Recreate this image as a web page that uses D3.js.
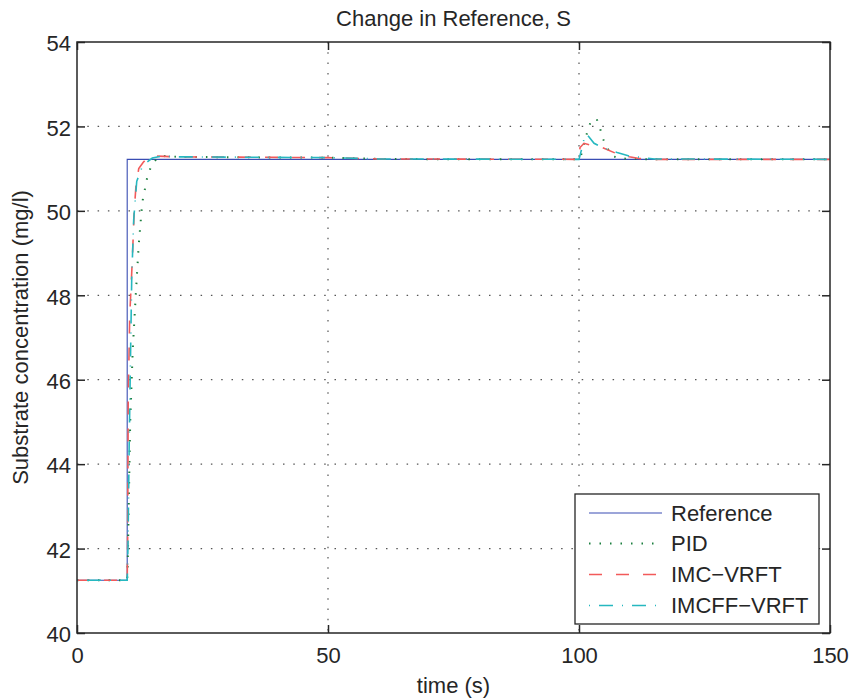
<!DOCTYPE html>
<html>
<head>
<meta charset="utf-8">
<script src="https://cdn.jsdelivr.net/npm/d3@7"></script>
<style>
  html, body { margin: 0; padding: 0; background: #fff; }
  svg { display: block; }
  text { font-family: "Liberation Sans", Arial, sans-serif; fill: #262626; }
</style>
</head>
<body>
<svg id="chart" width="854" height="698"></svg>
<script>
// ---- data ----
const titleText = "Change in Reference, S";
const xLabel = "time (s)";
const yLabel = "Substrate concentration (mg/l)";
const xTicks = [0, 50, 100, 150];
const yTicks = [40, 42, 44, 46, 48, 50, 52, 54];
const seriesNames = ["Reference", "PID", "IMC\u2212VRFT", "IMCFF\u2212VRFT"];

const refT = [0, 10, 10, 150];
const refY = [41.25, 41.25, 51.22, 51.22];

const pidT = [0, 10, 10.1, 10.3, 10.6, 11.1, 11.7, 12.3, 13, 14, 14.9, 16, 17.5, 20, 30, 50, 60, 80, 100, 100.5, 101, 101.8, 102.5, 103.6, 104.2, 104.8, 105.6, 106.6, 108, 110, 115, 150];
const pidY = [41.25, 41.25, 41.6, 43.0, 45.0, 46.7, 48.0, 49.2, 50.2, 50.8, 51.1, 51.25, 51.3, 51.28, 51.27, 51.26, 51.23, 51.22, 51.22, 51.35, 51.6, 51.93, 52.17, 52.15, 51.95, 51.7, 51.5, 51.3, 51.25, 51.23, 51.22, 51.22];

const imcT = [0, 10, 10.1, 10.2, 10.5, 11.0, 11.4, 11.75, 12.3, 13.2, 14, 15, 20, 50, 60, 100, 100.2, 101, 102.5, 104.6, 107.6, 110, 112, 115, 150];
const imcY = [41.25, 41.25, 42.3, 45.5, 47.5, 48.8, 50.0, 50.6, 51.0, 51.15, 51.25, 51.3, 51.28, 51.26, 51.23, 51.22, 51.5, 51.6, 51.55, 51.5, 51.35, 51.28, 51.24, 51.22, 51.22];

const imcffT = [0, 10, 10.15, 10.4, 10.9, 11.3, 11.9, 13.0, 13.9, 15, 17, 20, 50, 60, 100, 100.5, 101, 101.5, 102, 103, 104.6, 107.6, 110, 115, 150];
const imcffY = [41.25, 41.25, 42.0, 44.5, 48.4, 49.8, 50.7, 51.05, 51.15, 51.25, 51.3, 51.28, 51.26, 51.23, 51.22, 51.45, 51.7, 51.82, 51.75, 51.6, 51.5, 51.38, 51.3, 51.23, 51.22];

// ---- layout ----
const svg = d3.select("#chart");
const L = 77, R = 830, T = 42, B = 633;
const x = d3.scaleLinear().domain([0, 150]).range([L, R]);
const y = d3.scaleLinear().domain([40, 54]).range([B, T]);
const axisColor = "#262626";
const fontSize = 22;

// grid
const grid = svg.append("g");
grid.selectAll(".gx").data(xTicks.filter(d => d > 0 && d < 150)).join("line")
  .attr("x1", d => x(d)).attr("x2", d => x(d)).attr("y1", T).attr("y2", B)
  .attr("stroke", "#555").attr("stroke-width", 1.2).attr("stroke-dasharray", "1.5,8.8");
grid.selectAll(".gy").data(yTicks.filter(d => d > 40 && d < 54)).join("line")
  .attr("x1", L).attr("x2", R).attr("y1", d => y(d)).attr("y2", d => y(d))
  .attr("stroke", "#555").attr("stroke-width", 1.2).attr("stroke-dasharray", "1.5,8.8");

// series
const line = d3.line().x(d => x(d[0])).y(d => y(d[1]));
const zip = (a, b) => a.map((v, i) => [v, b[i]]);
const styles = [
  { data: zip(refT, refY), color: "#3a4db3", width: 1.1, dash: null },
  { data: zip(pidT, pidY), color: "#1d8040", width: 2, dash: "1.5,9" },
  { data: zip(imcT, imcY), color: "#f25a5a", width: 1.6, dash: "13,14" },
  { data: zip(imcffT, imcffY), color: "#26b8c0", width: 1.6, dash: "1,9,14,9" }
];
svg.append("clipPath").attr("id", "clp").append("rect")
  .attr("x", L).attr("y", T).attr("width", R - L).attr("height", B - T);
const sg = svg.append("g").attr("clip-path", "url(#clp)");
styles.forEach(s => {
  sg.append("path").attr("d", line(s.data)).attr("fill", "none")
    .attr("stroke", s.color).attr("stroke-width", s.width)
    .attr("stroke-dasharray", s.dash);
});

// axes box
svg.append("rect").attr("x", L).attr("y", T).attr("width", R - L).attr("height", B - T)
  .attr("fill", "none").attr("stroke", axisColor).attr("stroke-width", 1.5);

// axes with inward ticks
const ax = svg.append("g").attr("transform", `translate(0,${B})`)
  .call(d3.axisBottom(x).tickValues(xTicks).tickSize(-8).tickPadding(14).tickFormat(d3.format("d")));
const axTop = svg.append("g").attr("transform", `translate(0,${T})`)
  .call(d3.axisTop(x).tickValues(xTicks).tickSize(-8).tickFormat(""));
const ay = svg.append("g").attr("transform", `translate(${L},0)`)
  .call(d3.axisLeft(y).tickValues(yTicks).tickSize(-8).tickPadding(6).tickFormat(d3.format("d")));
const ayR = svg.append("g").attr("transform", `translate(${R},0)`)
  .call(d3.axisRight(y).tickValues(yTicks).tickSize(-8).tickFormat(""));
[ax, axTop, ay, ayR].forEach(g => {
  g.select(".domain").remove();
  g.selectAll(".tick line").attr("stroke", axisColor).attr("stroke-width", 1.5);
  g.selectAll(".tick text").attr("font-size", fontSize).attr("fill", axisColor)
    .style("font-family", "'Liberation Sans', Arial, sans-serif");
});
ay.selectAll(".tick text").attr("dy", "0.4em");

// title & labels
svg.append("text").attr("x", (L + R) / 2).attr("y", 26).attr("text-anchor", "middle")
  .attr("font-size", fontSize).text(titleText);
svg.append("text").attr("x", (L + R) / 2).attr("y", 693).attr("text-anchor", "middle")
  .attr("font-size", fontSize).text(xLabel);
svg.append("text").attr("transform", `translate(28,${(T + B) / 2}) rotate(-90)`)
  .attr("text-anchor", "middle").attr("font-size", fontSize).text(yLabel);

// legend
const lg = svg.append("g");
lg.append("rect").attr("x", 575).attr("y", 494).attr("width", 244).attr("height", 130)
  .attr("fill", "#fff").attr("stroke", axisColor).attr("stroke-width", 1.3);
const rowsY = [513, 543.5, 574.5, 605.5];
styles.forEach((s, i) => {
  lg.append("line").attr("x1", 589).attr("x2", 662).attr("y1", rowsY[i]).attr("y2", rowsY[i])
    .attr("stroke", s.color).attr("stroke-width", s.width).attr("stroke-dasharray", s.dash);
  lg.append("text").attr("x", 671).attr("y", rowsY[i]).attr("dy", "0.36em")
    .attr("font-size", fontSize).text(seriesNames[i]);
});
</script>
</body>
</html>
